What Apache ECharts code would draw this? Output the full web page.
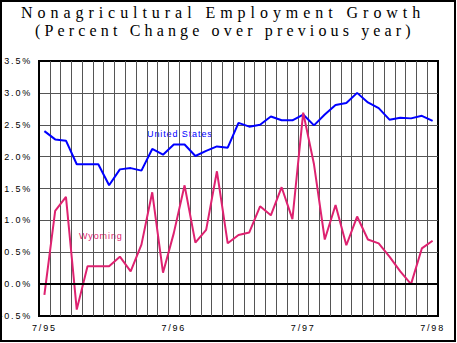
<!DOCTYPE html>
<html>
<head>
<meta charset="utf-8">
<script src="https://cdn.jsdelivr.net/npm/echarts@6/dist/echarts.min.js"></script>
<style>
html,body{margin:0;padding:0;background:#fff;}
#chart{width:457px;height:343px;}
</style>
</head>
<body>
<div id="chart"></div>
<script>
// ---- data ----
const months = [
  '7/95','8/95','9/95','10/95','11/95','12/95','1/96','2/96','3/96','4/96','5/96','6/96',
  '7/96','8/96','9/96','10/96','11/96','12/96','1/97','2/97','3/97','4/97','5/97','6/97',
  '7/97','8/97','9/97','10/97','11/97','12/97','1/98','2/98','3/98','4/98','5/98','6/98',
  '7/98'
];
const unitedStates = [
  2.40, 2.27, 2.25, 1.88, 1.88, 1.88, 1.55, 1.80, 1.82, 1.78, 2.12, 2.03,
  2.19, 2.19, 2.01, 2.09, 2.16, 2.14, 2.53, 2.47, 2.50, 2.63, 2.57, 2.57,
  2.66, 2.49, 2.66, 2.81, 2.84, 3.00, 2.85, 2.76, 2.58, 2.61, 2.60, 2.64,
  2.56
];
const wyoming = [
  -0.17, 1.15, 1.37, -0.40, 0.28, 0.28, 0.28, 0.43, 0.20, 0.62, 1.44, 0.18,
  0.80, 1.55, 0.65, 0.85, 1.77, 0.64, 0.77, 0.81, 1.22, 1.08, 1.52, 1.02,
  2.69, 1.88, 0.70, 1.24, 0.61, 1.06, 0.70, 0.64, 0.43, 0.20, 0.00, 0.56,
  0.68
];
const xTickLabels = ['7/95','7/96','7/97','7/98'];
const titleLine1 = 'Nonagricultural Employment Growth';
const titleLine2 = '(Percent Change over previous year)';

const BLUE = '#0000ff';
const PINK = '#de2270';

const chart = echarts.init(document.getElementById('chart'), null, {renderer: 'svg'});
chart.setOption({
  animation: false,
  backgroundColor: '#fff',
  title: [
    {text: titleLine1, left: 21, top: 4, padding: 0,
     textStyle: {fontFamily: 'Liberation Serif', fontSize: 16, fontWeight: 'normal', color: '#000', lineHeight: 16}},
    {text: titleLine2, left: 35, top: 22, padding: 0,
     textStyle: {fontFamily: 'Liberation Serif', fontSize: 16, fontWeight: 'normal', color: '#000', lineHeight: 16}}
  ],
  grid: {left: 39, top: 61, right: 19, bottom: 27, show: true, borderColor: '#000', borderWidth: 2, backgroundColor: 'transparent'},
  xAxis: {
    type: 'category', data: months, boundaryGap: true,
    axisLine: {show: true, lineStyle: {color: '#000', width: 2}},
    axisTick: {show: false},
    axisLabel: {
      interval: function (i, v) { return xTickLabels.indexOf(v) >= 0; },
      margin: 7, fontFamily: 'Liberation Sans', fontSize: 9, color: '#000'
    },
    splitLine: {show: true, interval: 0, showMinLine: false, showMaxLine: false, lineStyle: {color: '#555', width: 1}}
  },
  yAxis: {
    type: 'value', min: -0.5, max: 3.5, interval: 0.5,
    axisLine: {show: true, lineStyle: {color: '#000', width: 2}},
    axisTick: {show: false},
    axisLabel: {
      formatter: function (v) { return v.toFixed(1) + '%'; },
      margin: 7, fontFamily: 'Liberation Sans', fontSize: 9, color: '#000'
    },
    splitLine: {show: true, showMinLine: false, showMaxLine: false, lineStyle: {color: '#555', width: 1}}
  },
  series: [
    {name: 'United States', type: 'line', data: unitedStates, showSymbol: false, symbol: 'none',
     lineStyle: {color: BLUE, width: 2}, itemStyle: {color: BLUE},
     markLine: {silent: true, symbol: 'none', label: {show: false},
       lineStyle: {color: '#000', width: 2, type: 'solid'}, data: [{yAxis: 0}]}},
    {name: 'Wyoming', type: 'line', data: wyoming, showSymbol: false, symbol: 'none',
     lineStyle: {color: PINK, width: 2}, itemStyle: {color: PINK}}
  ],
  graphic: [
    {type: 'text', left: 147, top: 129, style: {text: 'United States', fill: BLUE, font: '9px "Liberation Sans"'}},
    {type: 'text', left: 79, top: 231, style: {text: 'Wyoming', fill: PINK, font: '9px "Liberation Sans"'}},
    {type: 'rect', shape: {x: 1, y: 1, width: 454, height: 340}, style: {fill: 'none', stroke: '#000', lineWidth: 2}, silent: true}
  ]
});

function spaceText() {
  document.querySelectorAll('#chart svg text').forEach(function (t) {
    const s = t.textContent;
    let ls = '1.8px';
    if (s === titleLine1) ls = '4.95px';
    else if (s === titleLine2) ls = '4.15px';
    else if (s === 'United States' || s === 'Wyoming') ls = '0.9px';
    t.style.letterSpacing = ls;
  });
}
chart.on('finished', spaceText);
spaceText();
setTimeout(spaceText, 0);
setTimeout(spaceText, 100);
</script>
</body>
</html>
